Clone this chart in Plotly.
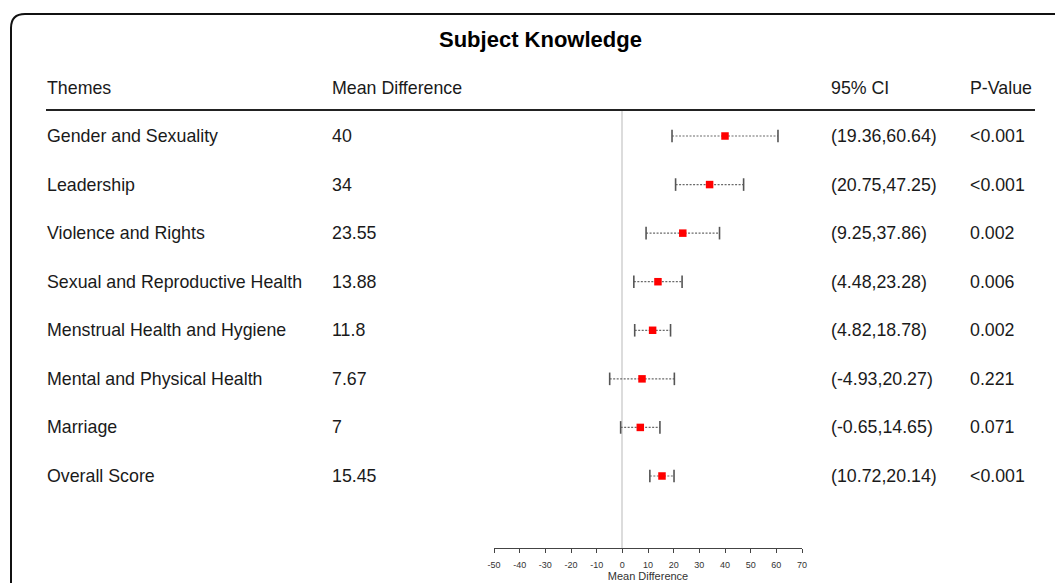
import plotly.graph_objects as go

# Forest plot data: subject knowledge themes
themes = [
    "Gender and Sexuality",
    "Leadership",
    "Violence and Rights",
    "Sexual and Reproductive Health",
    "Menstrual Health and Hygiene",
    "Mental and Physical Health",
    "Marriage",
    "Overall Score",
]
mean_diff = [40, 34, 23.55, 13.88, 11.8, 7.67, 7, 15.45]
ci_low = [19.36, 20.75, 9.25, 4.48, 4.82, -4.93, -0.65, 10.72]
ci_high = [60.64, 47.25, 37.86, 23.28, 18.78, 20.27, 14.65, 20.14]
p_values = ["<0.001", "<0.001", "0.002", "0.006", "0.002", "0.221", "0.071", "<0.001"]
x_ticks = list(range(-50, 71, 10))

W, H = 1055, 583
FONT = "Liberation Sans, Arial, sans-serif"
TXT = "#1a1a1a"

# page layout in pixels
ROW0, STEP = 136, 48.57
TOP_PX, AXIS_PX = 110, 548
HEADER_PX = 88
PLOT_L, PLOT_R = 494, 802
COLS = [45, 330, 829, 968]


def px(x):
    return x / W


def py(y):
    return 1 - y / H


def row_of(pix):
    return (pix - ROW0) / STEP


rows = list(range(len(themes)))

fig = go.Figure()

# dotted confidence-interval segments
seg_x, seg_y = [], []
for i, lo, hi in zip(rows, ci_low, ci_high):
    seg_x += [lo, hi, None]
    seg_y += [i, i, None]
fig.add_trace(go.Scatter(
    x=seg_x, y=seg_y, mode="lines",
    line=dict(color="#6a6a6a", width=1.2, dash="2px,1.5px"),
    hoverinfo="skip", showlegend=False,
))

# whisker caps
fig.add_trace(go.Scatter(
    x=ci_low + ci_high, y=rows + rows, mode="markers",
    marker=dict(symbol="line-ns", size=9, line=dict(color="#555555", width=1.6)),
    hoverinfo="skip", showlegend=False,
))

# point estimates
fig.add_trace(go.Scatter(
    x=mean_diff, y=rows, mode="markers",
    marker=dict(symbol="square", size=7.5, color="#ff0000", line=dict(width=0)),
    showlegend=False,
))

ann = []
# column headers
for label, xp in zip(["Themes", "Mean Difference", "95% CI", "P-Value"], COLS):
    ann.append(dict(text=label, x=px(xp), y=py(HEADER_PX), xref="paper", yref="paper",
                    xanchor="left", yanchor="middle", showarrow=False,
                    font=dict(family=FONT, size=17.8, color=TXT)))

# table rows
for i in rows:
    cells = [
        themes[i],
        f"{mean_diff[i]:g}",
        f"({ci_low[i]:g},{ci_high[i]:g})",
        p_values[i],
    ]
    for label, xp in zip(cells, COLS):
        ann.append(dict(text=label, x=px(xp), y=i, xref="paper", yref="y",
                        xanchor="left", yanchor="middle", showarrow=False,
                        font=dict(family=FONT, size=17.8, color=TXT)))

# title
ann.append(dict(text="<b>Subject Knowledge</b>", x=px(540), y=py(40), xref="paper", yref="paper",
                xanchor="center", yanchor="middle", showarrow=False,
                font=dict(family=FONT, size=22, color="#000000")))

# outer rounded frame (open at right and bottom)
r = 14
x0, y0 = 11, 14
frame = (f"M {px(x0)},{py(H + 5)} L {px(x0)},{py(y0 + r)} "
         f"Q {px(x0)},{py(y0)} {px(x0 + r)},{py(y0)} L {px(W + 5)},{py(y0)}")

shapes = [
    dict(type="path", path=frame, xref="paper", yref="paper",
         line=dict(color="#111111", width=2)),
    dict(type="line", x0=px(46), x1=px(1035), y0=py(TOP_PX), y1=py(TOP_PX),
         xref="paper", yref="paper", line=dict(color="#222222", width=2)),
]

fig.update_layout(
    width=W, height=H,
    margin=dict(l=0, r=0, t=0, b=0, pad=0, autoexpand=False),
    paper_bgcolor="white", plot_bgcolor="white",
    annotations=ann, shapes=shapes,
    xaxis=dict(
        domain=[px(PLOT_L), px(PLOT_R)], range=[-50, 70],
        tickvals=x_ticks, ticktext=[str(t) for t in x_ticks],
        showgrid=False, zeroline=True, zerolinecolor="#dcdcdc", zerolinewidth=1.5,
        showline=True, linecolor="#444444", linewidth=1,
        ticks="outside", ticklen=4, tickcolor="#444444", tickwidth=1,
        ticklabelstandoff=4,
        tickfont=dict(family=FONT, size=9, color="#333333"),
        title=dict(text="Mean Difference", font=dict(family=FONT, size=11, color="#333333"), standoff=2),
        automargin=False, fixedrange=True,
    ),
    yaxis=dict(
        domain=[py(AXIS_PX), py(TOP_PX)],
        range=[row_of(AXIS_PX), row_of(TOP_PX)],
        showgrid=False, zeroline=False, showline=False, showticklabels=False, ticks="",
        automargin=False, fixedrange=True,
    ),
)

fig.write_html("out.html")
